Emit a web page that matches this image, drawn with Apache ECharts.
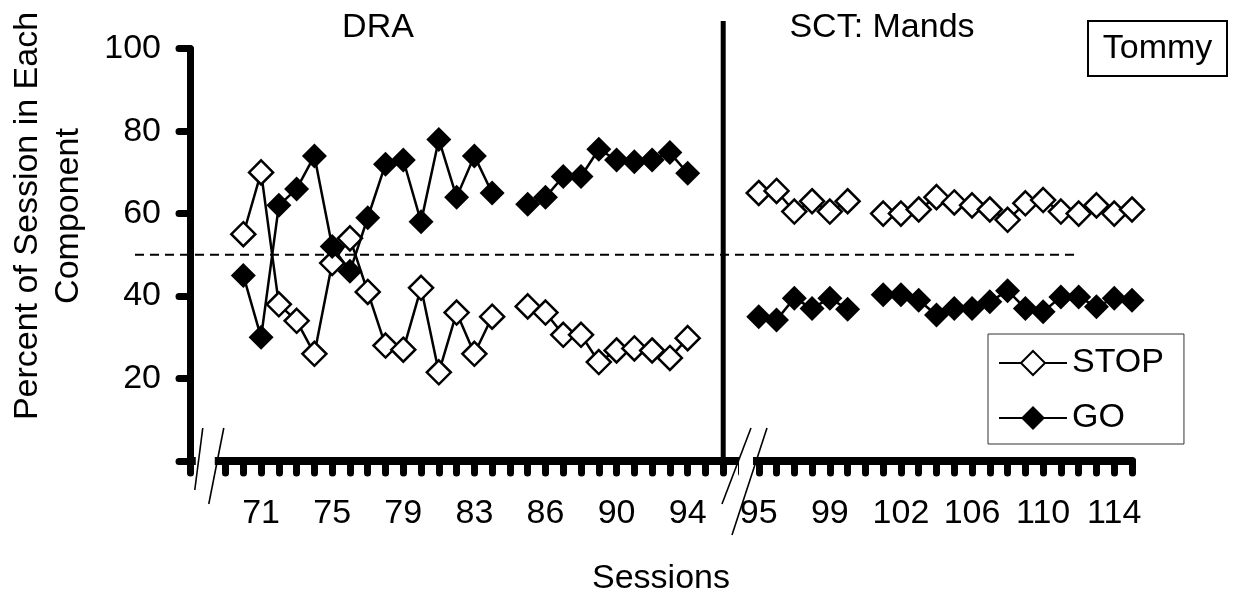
<!DOCTYPE html>
<html>
<head>
<meta charset="utf-8">
<script src="https://cdn.jsdelivr.net/npm/echarts@6/dist/echarts.min.js"></script>
<style>html,body{margin:0;padding:0;background:#fff}#c{width:1233px;height:596px}</style>
</head>
<body>
<div id="c"></div>
<script>
// Category slots along the session axis ('' = empty slot / axis break spacing)
const sessions = ['', '', '',
  '70','71','72','73','74','75','76','77','78','79','80','81','82','83','84',
  '',
  '85','86','87','88','89','90','91','92','93','94',
  '', '', '',
  '95','96','97','98','99','100',
  '',
  '101','102','103','104','105','106','107','108','109','110','111','112','113','114','115'];
const xTickLabels = ['71','75','79','83','86','90','94','95','99','102','106','110','114'];
const stopVals = [null, null, null,
  55, 70, 38, 34, 26, 48, 54, 41, 28, 27, 42, 21.5, 36, 26, 35,
  null,
  37.5, 36, 30.6, 30.6, 24, 26.8, 27.3, 26.8, 25, 29.8,
  null, null, null,
  65, 65.5, 60.5, 63, 60.5, 63,
  null,
  60, 60, 61, 64, 62.7, 62, 61, 58.5, 62.5, 63.3, 60.5, 60, 62, 60, 61];
const goVals = [null, null, null,
  45, 30, 62, 66, 74, 52, 46, 59, 72, 73, 58, 78, 64, 74, 65,
  null,
  62.3, 64, 69, 69, 75.6, 73, 72.6, 73, 74.8, 69.8,
  null, null, null,
  35, 34.2, 39.5, 37, 39.5, 36.8,
  null,
  40.3, 40.3, 39, 35.4, 37, 37, 38.6, 41.3, 37, 36.2, 39.8, 39.8, 37.4, 39.5, 39];
const yTicks = [0, 20, 40, 60, 80, 100];
const criterionLevel = 50;
const phaseTitles = ['DRA', 'SCT: Mands'];
const phaseChangeSlot = 30;
const breakSlots = [1, 31];
const participant = 'Tommy';

const FONT = '"Liberation Sans", Arial, sans-serif';
const FS = 34;
const chart = echarts.init(document.getElementById('c'), null, {renderer: 'canvas'});

const option = {
  animation: false,
  backgroundColor: '#fff',
  grid: {left: 190, right: 101, top: 48.7, bottom: 135, containLabel: false, outerBoundsMode: 'none'},
  xAxis: {
    type: 'category', data: sessions, boundaryGap: false,
    axisLine: {lineStyle: {color: '#000', width: 8, cap: 'round'}},
    axisTick: {show: true, interval: 0, length: 12, lineStyle: {color: '#000', width: 7, cap: 'round'}},
    axisLabel: {interval: 3, margin: 36, color: '#000', fontSize: FS, fontFamily: FONT,
      formatter: v => xTickLabels.includes(v) ? v : ''},
    splitLine: {show: false},
    name: 'Sessions', nameLocation: 'middle', nameGap: 101,
    nameTextStyle: {color: '#000', fontSize: FS, fontFamily: FONT}
  },
  yAxis: {
    type: 'value', min: yTicks[0], max: yTicks[yTicks.length - 1], interval: 20,
    axisLine: {show: true, lineStyle: {color: '#000', width: 7, cap: 'round'}},
    axisTick: {show: true, length: 11, lineStyle: {color: '#000', width: 7, cap: 'round'}},
    axisLabel: {margin: 29, color: '#000', fontSize: FS, fontFamily: FONT,
      formatter: v => v === 0 ? '' : String(v)},
    splitLine: {show: false}
  },
  legend: {
    data: ['STOP', 'GO'],
    orient: 'vertical', left: 988, top: 334,
    padding: [12, 20, 9, 10],
    itemWidth: 68, itemHeight: 30, itemGap: 21,
    borderColor: '#333', borderWidth: 1,
    textStyle: {color: '#000', fontSize: FS, fontFamily: FONT, lineHeight: 30},
    backgroundColor: '#fff'
  },
  series: [
    {name: 'STOP', type: 'line', data: stopVals, connectNulls: false,
     symbol: 'diamond', symbolSize: 24, showAllSymbol: true,
     lineStyle: {color: '#000', width: 2.5},
     itemStyle: {color: '#fff', borderColor: '#000', borderWidth: 2.5}, z: 3},
    {name: 'GO', type: 'line', data: goVals, connectNulls: false,
     symbol: 'diamond', symbolSize: 25, showAllSymbol: true,
     lineStyle: {color: '#000', width: 2.5},
     itemStyle: {color: '#000', borderColor: '#000', borderWidth: 0}, z: 4}
  ]
};
chart.setOption(option);

const axisY = chart.convertToPixel({yAxisIndex: 0}, 0);
const yCrit = chart.convertToPixel({yAxisIndex: 0}, criterionLevel);
const xAt = i => chart.convertToPixel({xAxisIndex: 0}, i);
const xPhase = xAt(phaseChangeSlot);
const xb1 = xAt(breakSlots[0]);
const xb2 = xAt(breakSlots[1]);

const txt = (text, x, y, extra) => Object.assign({
  type: 'text', x: x, y: y, z: 60,
  style: {text: text, fill: '#000', font: FS + 'px ' + FONT,
    align: 'center', textAlign: 'center', verticalAlign: 'middle', textVerticalAlign: 'middle'}
}, extra || {});

const graphics = [
  // criterion dashed line
  {type: 'line', z: 1, shape: {x1: 135, y1: yCrit, x2: 1077, y2: yCrit},
   style: {stroke: '#000', lineWidth: 2, lineDash: [9, 6]}},
  // phase change line
  {type: 'line', z: 50, shape: {x1: xPhase, y1: 21, x2: xPhase, y2: axisY},
   style: {stroke: '#000', lineWidth: 5}},
  // axis break 1
  {type: 'rect', z: 50, shape: {x: xb1 - 12, y: axisY - 6, width: 19, height: 25}, style: {fill: '#fff'}},
  {type: 'line', z: 51, shape: {x1: xb1 - 5, y1: axisY - 33, x2: xb1 - 13, y2: axisY + 29}, style: {stroke: '#000', lineWidth: 1.6}},
  {type: 'line', z: 51, shape: {x1: xb1 + 16, y1: axisY - 33, x2: xb1 + 1, y2: axisY + 43}, style: {stroke: '#000', lineWidth: 1.6}},
  // axis break 2
  {type: 'rect', z: 50, shape: {x: xb2 - 2, y: axisY - 6, width: 14, height: 25}, style: {fill: '#fff'}},
  {type: 'line', z: 51, shape: {x1: xb2 + 10, y1: axisY - 33, x2: xb2 - 19, y2: axisY + 43}, style: {stroke: '#000', lineWidth: 1.6}},
  {type: 'line', z: 51, shape: {x1: xb2 + 26, y1: axisY - 33, x2: xb2 - 9, y2: axisY + 74}, style: {stroke: '#000', lineWidth: 1.6}},
  // phase titles
  txt(phaseTitles[0], 378, 28),
  txt(phaseTitles[1], 882, 28),
  // y-axis title
  {type: 'text', z: 60, x: 48, y: 216, rotation: Math.PI / 2,
   style: {text: 'Percent of Session in Each\nComponent', fill: '#000', font: FS + 'px ' + FONT,
     lineHeight: 41, align: 'center', textAlign: 'center', verticalAlign: 'middle', textVerticalAlign: 'middle'}},
  // participant box
  {type: 'rect', z: 60, shape: {x: 1088, y: 21, width: 139, height: 55},
   style: {fill: '#fff', stroke: '#000', lineWidth: 2}},
  txt(participant, 1157.5, 49, {z: 61})
];
chart.setOption({graphic: graphics});
</script>
</body>
</html>
